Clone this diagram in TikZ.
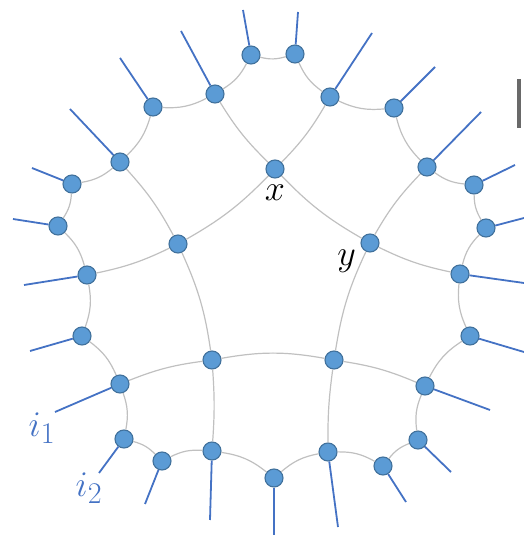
\documentclass[tikz,border=0pt]{standalone}
\usepackage{tikz}
\usetikzlibrary{positioning}
\definecolor{nodeblue}{RGB}{91,155,213}
\definecolor{nodeedge}{RGB}{65,113,156}
\definecolor{legblue}{RGB}{68,114,196}
\definecolor{ringgray}{RGB}{192,192,192}
\definecolor{bargray}{RGB}{105,105,105}
\tikzset{
  vert/.style={circle, draw=nodeedge, fill=nodeblue, minimum size=18pt,
    inner sep=0pt, line width=1.1pt},
  ringline/.style={draw=ringgray, line width=1.2pt},
  legline/.style={draw=legblue, line width=1.8pt},
  lbl/.style={font=\Huge, scale=1.45, transform shape, inner sep=0pt}
}

\begin{document}
\begin{tikzpicture}[x=1pt, y=1pt]
  \useasboundingbox (0,0) rectangle (524,536);
  % outer ring, clockwise from the bottom
  \node[vert] (o0) at (274,58) {};
  \node[vert] (o1) at (212,85) {};
  \node[vert] (o2) at (162,75) {};
  \node[vert] (o3) at (124,97) {};
  \node[vert] (o4) at (120,152) {};
  \node[vert] (o5) at (82,200) {};
  \node[vert] (o6) at (87,261) {};
  \node[vert] (o7) at (58,310) {};
  \node[vert] (o8) at (72,352) {};
  \node[vert] (o9) at (120,374) {};
  \node[vert] (o10) at (153,429) {};
  \node[vert] (o11) at (215,442) {};
  \node[vert] (o12) at (251,481) {};
  \node[vert] (o13) at (295,482) {};
  \node[vert] (o14) at (330,439) {};
  \node[vert] (o15) at (394,428) {};
  \node[vert] (o16) at (427,369) {};
  \node[vert] (o17) at (474,351) {};
  \node[vert] (o18) at (486,308) {};
  \node[vert] (o19) at (460,262) {};
  \node[vert] (o20) at (470,200) {};
  \node[vert] (o21) at (425,150) {};
  \node[vert] (o22) at (418,96) {};
  \node[vert] (o23) at (383,70) {};
  \node[vert] (o24) at (328,84) {};
  % inner pentagon
  \node[vert] (x) at (275,367) {};
  \node[vert] (y) at (370,293) {};
  \node[vert] (r) at (334,176) {};
  \node[vert] (q) at (212,176) {};
  \node[vert] (p) at (178,292) {};

  \foreach \a [remember=\a as \b (initially 24)] in {0,...,24}
    \draw[ringline] (o\b) to[bend right=15] (o\a);
  \draw[ringline] (x) to[bend right=8] (y);
  \draw[ringline] (y) to[bend right=8] (r);
  \draw[ringline] (r) to[bend right=10] (q);
  \draw[ringline] (q) to[bend right=8] (p);
  \draw[ringline] (p) to[bend right=8] (x);
  \draw[ringline] (x) to[bend left=7] (o11);
  \draw[ringline] (x) to[bend right=7] (o14);
  \draw[ringline] (y) to[bend left=7] (o16);
  \draw[ringline] (y) to[bend right=7] (o19);
  \draw[ringline] (r) to[bend left=7] (o21);
  \draw[ringline] (r) to[bend right=4] (o24);
  \draw[ringline] (q) to[bend left=4] (o1);
  \draw[ringline] (q) to[bend right=7] (o4);
  \draw[ringline] (p) to[bend left=7] (o6);
  \draw[ringline] (p) to[bend right=7] (o9);

  % outgoing legs
  \foreach \i/\px/\py in {0/274/1, 1/210/16, 2/145/32, 3/99/63, 4/55/124,
      5/30/185, 6/24/251, 7/13/317, 8/32/368, 9/70/427, 10/120/478,
      11/181/505, 12/243/526, 13/298/524, 14/372/503, 15/435/469,
      16/481/424, 17/515/371, 18/524/318, 19/524/253, 20/524/184,
      21/490/126, 22/451/64, 23/406/34, 24/338/9} {
    \coordinate (t\i) at (\px,\py);
    \draw[legline] (o\i) -- (t\i);
  }

  \node[lbl, below=6pt of x] (xlbl) {$x$};
  \node[lbl, below left=0pt and 7pt of y] (ylbl) {$y$};
  \node[lbl, text=legblue] (ione) at (42,108) {$i_1$};
  \node[lbl, text=legblue] (itwo) at (89,48) {$i_2$};
  \fill[bargray] (517,408) rectangle (521,457);
\end{tikzpicture}
\end{document}
